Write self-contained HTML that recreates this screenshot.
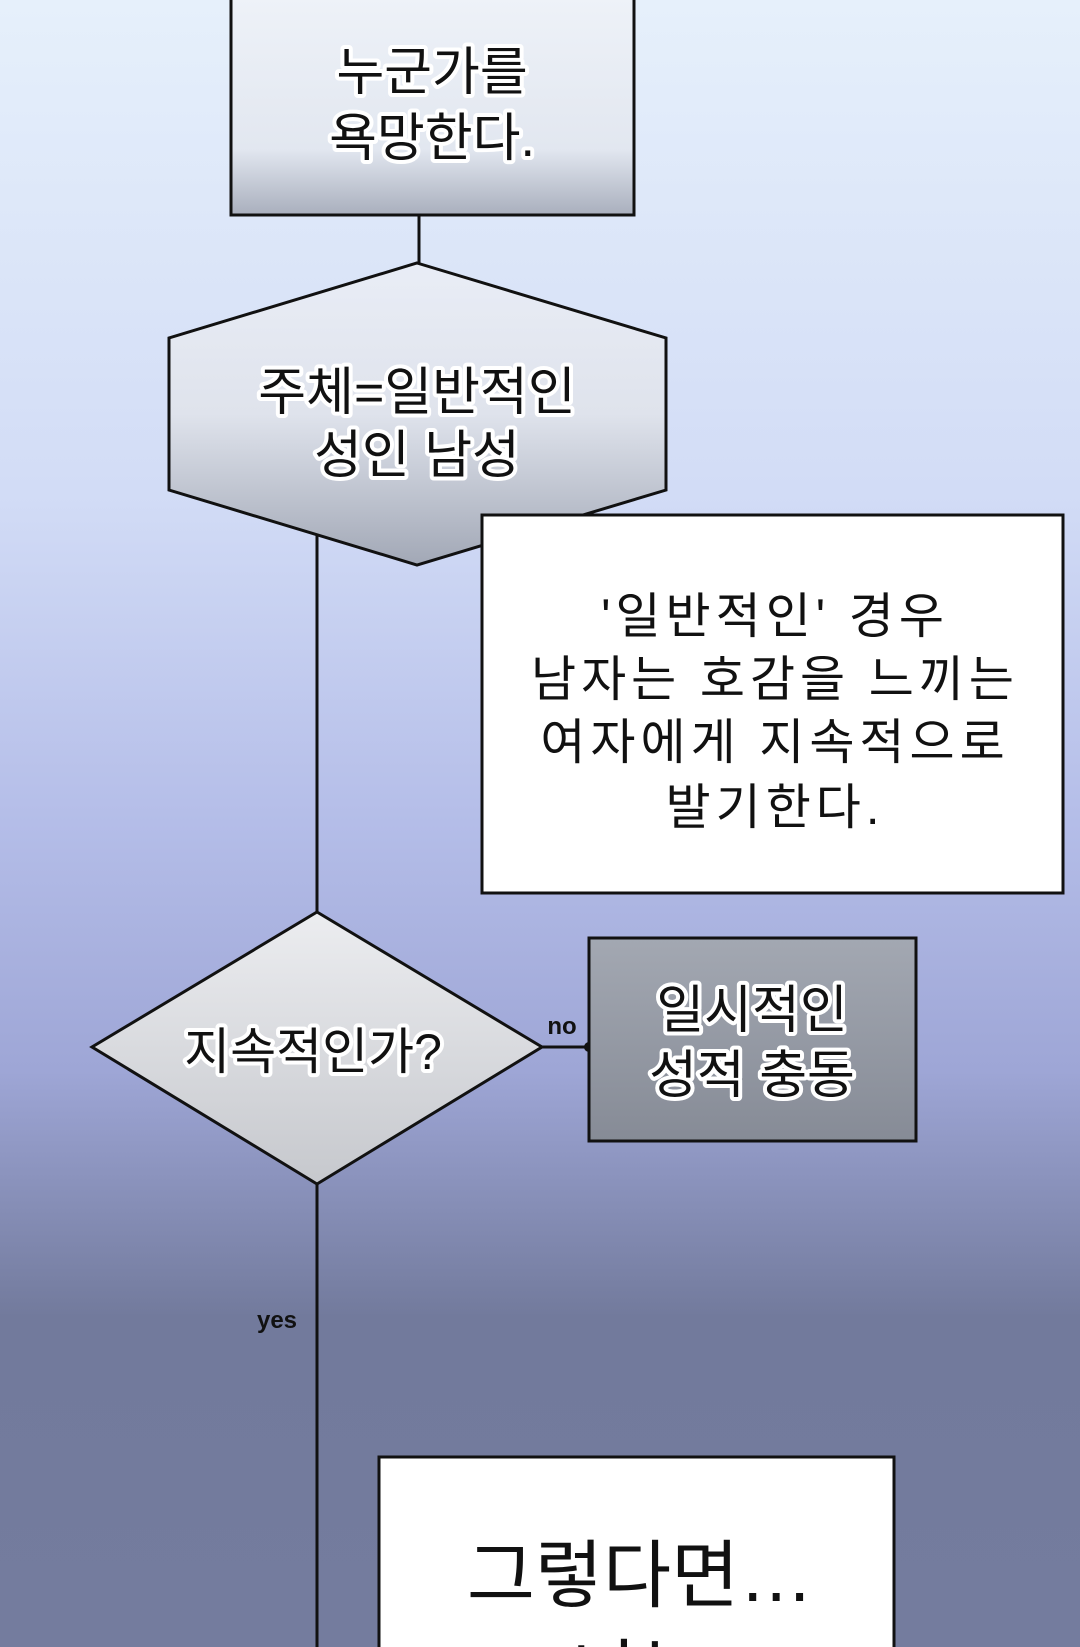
<!DOCTYPE html>
<html><head><meta charset="utf-8"><style>
html,body{margin:0;padding:0;width:1080px;height:1647px;overflow:hidden}
svg{display:block}
.o{font-family:"Liberation Sans","Noto Sans CJK KR",sans-serif;font-weight:400;fill:#111;stroke:#fff;stroke-width:8px;paint-order:stroke;stroke-linejoin:round;text-anchor:middle}
.w{font-family:"Liberation Sans","Noto Sans CJK KR",sans-serif;fill:#111;text-anchor:middle}
</style></head><body>
<svg width="1080" height="1647" viewBox="0 0 1080 1647" xmlns="http://www.w3.org/2000/svg">
<defs>
<linearGradient id="bg" x1="0" y1="0" x2="0" y2="1">
<stop offset="0" stop-color="#e6f0fb"/><stop offset="0.3" stop-color="#d2dcf6"/>
<stop offset="0.5" stop-color="#b4bde8"/><stop offset="0.65" stop-color="#9ea6d6"/>
<stop offset="0.8" stop-color="#727a9c"/><stop offset="1" stop-color="#747c9e"/>
</linearGradient>
<linearGradient id="g1" x1="0" y1="0" x2="0" y2="1">
<stop offset="0" stop-color="#eef2f8"/><stop offset="0.7" stop-color="#e2e7f0"/><stop offset="1" stop-color="#a9afbd"/>
</linearGradient>
<linearGradient id="g2" x1="0" y1="0" x2="0" y2="1">
<stop offset="0" stop-color="#e9edf6"/><stop offset="0.5" stop-color="#dfe3ec"/><stop offset="1" stop-color="#a2a8b6"/>
</linearGradient>
<linearGradient id="g3" x1="0" y1="0" x2="0" y2="1">
<stop offset="0" stop-color="#ecedf0"/><stop offset="1" stop-color="#c6c8cd"/>
</linearGradient>
<linearGradient id="g4" x1="0" y1="0" x2="0" y2="1">
<stop offset="0" stop-color="#a3a8b2"/><stop offset="1" stop-color="#868b96"/>
</linearGradient>
</defs>
<rect width="1080" height="1647" fill="url(#bg)"/>
<g stroke="#111" stroke-width="3" fill="none">
<line x1="419" y1="215" x2="419" y2="264"/>
<line x1="317" y1="520" x2="317" y2="912"/>
<line x1="317" y1="1184" x2="317" y2="1647"/>
<line x1="542" y1="1047" x2="589" y2="1047"/>
</g>
<rect x="231" y="-5" width="403" height="220" fill="url(#g1)" stroke="#111" stroke-width="3"/>
<text class="o" font-size="52" x="432" y="90">누군가를</text>
<text class="o" font-size="52" x="432" y="156">욕망한다.</text>
<polygon points="417,263 666,338 666,490 417,565 169,490 169,338" fill="url(#g2)" stroke="#111" stroke-width="3"/>
<text class="o" font-size="52" x="417" y="410">주체=일반적인</text>
<text class="o" font-size="52" x="417" y="473">성인 남성</text>
<rect x="482" y="515" width="581" height="378" fill="#fff" stroke="#111" stroke-width="3"/>
<g class="w" font-size="49" letter-spacing="5">
<text x="775" y="633">'일반적인' 경우</text>
<text x="775" y="696">남자는 호감을 느끼는</text>
<text x="775" y="759">여자에게 지속적으로</text>
<text x="775" y="824">발기한다.</text>
</g>
<polygon points="317,912 542,1047 317,1184 92,1047" fill="url(#g3)" stroke="#111" stroke-width="3"/>
<text class="o" font-size="50" x="313" y="1069">지속적인가?</text>
<circle cx="589" cy="1047" r="5" fill="#111"/>
<text class="w" font-size="24" x="562" y="1034" font-weight="bold">no</text>
<rect x="589" y="938" width="327" height="203" fill="url(#g4)" stroke="#111" stroke-width="3"/>
<text class="o" font-size="52" x="752" y="1028">일시적인</text>
<text class="o" font-size="52" x="752" y="1093">성적 충동</text>
<text class="w" font-size="24" x="277" y="1328" font-weight="bold">yes</text>
<rect x="379" y="1457" width="515" height="200" fill="#fff" stroke="#111" stroke-width="3"/>
<text class="w" font-size="74" x="640" y="1601">그렇다면…</text>
<text class="w" font-size="74" x="640" y="1700">나는</text>
</svg>
</body></html>
